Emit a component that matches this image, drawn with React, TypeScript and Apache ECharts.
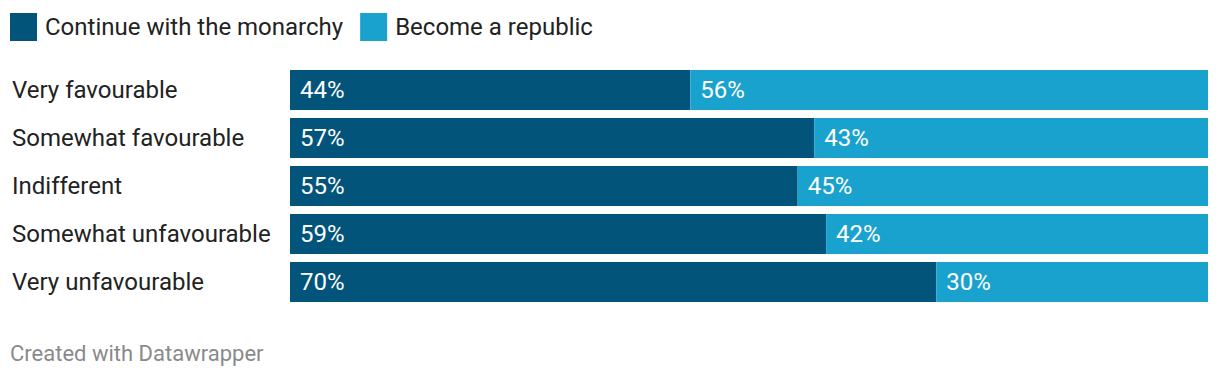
import React, { useEffect, useRef } from "react";
import * as echarts from "echarts";

const categories = [
  "Very favourable",
  "Somewhat favourable",
  "Indifferent",
  "Somewhat unfavourable",
  "Very unfavourable",
];
// bar shares as drawn
const monarchyShare = [43.6, 57.1, 55.3, 58.4, 70.4];
const republicShare = [56.4, 42.9, 44.7, 41.6, 29.6];
// labels as printed
const monarchyLabels = [44, 57, 55, 59, 70];
const republicLabels = [56, 43, 45, 42, 30];

const DARK = "#02547b";
const LIGHT = "#1aa2cf";
const FONT = "Roboto";

export default function App() {
  const ref = useRef<HTMLDivElement>(null);
  useEffect(() => {
    if (!ref.current) return;
    const chart = echarts.init(ref.current, undefined, { renderer: "svg" });
    const labelStyle = (arr: number[]) => ({
      show: true,
      position: "insideLeft" as const,
      distance: 10,
      color: "#ffffff",
      fontFamily: FONT,
      fontSize: 24,
      formatter: (p: any) => arr[p.dataIndex] + "%",
    });
    chart.setOption({
      animation: false,
      textStyle: { fontFamily: FONT },
      legend: {
        left: 10,
        top: 13,
        padding: 0,
        icon: "rect",
        itemWidth: 27,
        itemHeight: 28,
        itemGap: 17,
        selectedMode: false,
        textStyle: { fontFamily: FONT, fontSize: 24, color: "#222", padding: [2, 0, 0, 3] },
        data: ["Continue with the monarchy", "Become a republic"],
      },
      grid: { left: 290, right: 12, top: 66, height: 240 },
      xAxis: {
        type: "value",
        min: 0,
        max: 100,
        show: false,
      },
      yAxis: {
        type: "category",
        inverse: true,
        data: categories,
        axisLine: { show: false },
        axisTick: { show: false },
        splitLine: { show: false },
        axisLabel: {
          align: "left",
          margin: 278,
          fontFamily: FONT,
          fontSize: 24,
          color: "#222",
          padding: [0, 0, 4, 0],
        },
      },
      series: [
        {
          name: "Continue with the monarchy",
          type: "bar",
          stack: "s",
          barWidth: 40,
          itemStyle: { color: DARK },
          label: labelStyle(monarchyLabels),
          data: monarchyShare,
        },
        {
          name: "Become a republic",
          type: "bar",
          stack: "s",
          barWidth: 40,
          itemStyle: { color: LIGHT },
          label: labelStyle(republicLabels),
          data: republicShare,
        },
      ],
      graphic: [
        {
          type: "text",
          left: 10,
          top: 342,
          style: {
            text: "Created with Datawrapper",
            fontFamily: FONT,
            fontSize: 22,
            fill: "#8a8a8a",
          },
        },
      ],
    });
    return () => chart.dispose();
  }, []);
  return (
    <div
      ref={ref}
      style={{ position: "fixed", left: 0, top: 0, width: 1220, height: 378, background: "#fff" }}
    />
  );
}
